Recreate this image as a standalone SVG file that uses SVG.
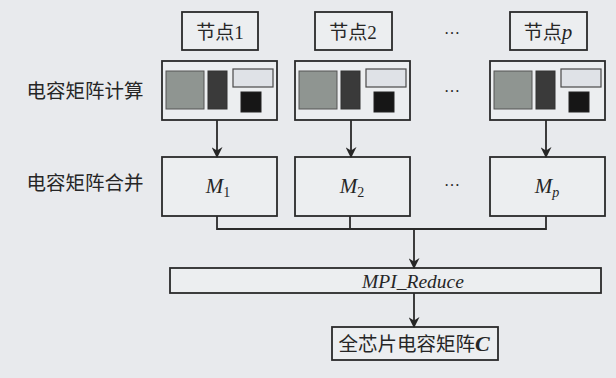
<svg xmlns="http://www.w3.org/2000/svg" width="616" height="378" viewBox="0 0 616 378">
<defs>
<style>
.bg{fill:#e8eaed}
.box{fill:#eceef0;stroke:#2a2a2a;stroke-width:1.8}
.cjk{font-family:"Noto Sans CJK SC","Noto Sans",sans-serif;fill:#262626}
.ser{font-family:"Liberation Serif","DejaVu Serif",serif;fill:#262626}
.it{font-style:italic}
.g1{fill:#8f9591;stroke:#555;stroke-width:1}
.g2{fill:#3a3a3a;stroke:#333;stroke-width:1}
.g3{fill:#dfe2e7;stroke:#4a4a4a;stroke-width:1.2}
.g4{fill:#161616;stroke:#222;stroke-width:1}
.ln{fill:none;stroke:#2a2a2a;stroke-width:1.8}
</style>
<marker id="ah" viewBox="0 0 10 10" refX="9" refY="5" markerWidth="11" markerHeight="11" markerUnits="userSpaceOnUse" orient="auto">
<path d="M0,0 L10,5 L0,10 L3,5 Z" fill="#262626"/>
</marker>
<g id="chip">
<rect x="0" y="0" width="115" height="59" class="box"/>
<rect x="4" y="10" width="38" height="38" class="g1"/>
<rect x="46" y="10" width="19" height="38" class="g2"/>
<rect x="71" y="8" width="40" height="18" class="g3"/>
<rect x="79" y="31" width="20" height="20" class="g4"/>
</g>
</defs>
<rect class="bg" x="0" y="0" width="616" height="378"/>

<text class="cjk" x="85" y="98" font-size="19.5" text-anchor="middle">电容矩阵计算</text>
<text class="cjk" x="85" y="190" font-size="19.5" text-anchor="middle">电容矩阵合并</text>

<g id="node1">
<rect class="box" x="182" y="12" width="76" height="38"/>
<text x="220" y="39" font-size="19" text-anchor="middle"><tspan class="cjk">节点</tspan><tspan class="ser">1</tspan></text>
</g>
<g id="node2">
<rect class="box" x="315" y="12" width="77" height="38"/>
<text x="353" y="39" font-size="19" text-anchor="middle"><tspan class="cjk">节点</tspan><tspan class="ser">2</tspan></text>
</g>
<g id="nodep">
<rect class="box" x="510" y="12" width="77" height="38"/>
<text x="548" y="39" font-size="19" text-anchor="middle"><tspan class="cjk">节点</tspan><tspan class="ser it" font-size="21">p</tspan></text>
</g>

<g id="calc1"><use href="#chip" x="162" y="61"/></g>
<g id="calc2"><use href="#chip" x="295" y="61"/></g>
<g id="calcp"><use href="#chip" x="490" y="61"/></g>

<g id="m1">
<rect class="box" x="162" y="157" width="115" height="59"/>
<text class="ser it" x="218" y="193" font-size="21" text-anchor="middle">M<tspan font-size="14" font-style="normal" dy="4">1</tspan></text>
</g>
<g id="m2">
<rect class="box" x="295" y="157" width="115" height="59"/>
<text class="ser it" x="352" y="193" font-size="21" text-anchor="middle">M<tspan font-size="14" font-style="normal" dy="4">2</tspan></text>
</g>
<g id="mp">
<rect class="box" x="490" y="157" width="115" height="59"/>
<text class="ser it" x="547" y="193" font-size="21" text-anchor="middle">M<tspan font-size="14" dy="4">p</tspan></text>
</g>

<g id="dots" class="ser" font-size="16">
<text x="452" y="34" text-anchor="middle">…</text>
<text x="452" y="92" text-anchor="middle">…</text>
<text x="452" y="186" text-anchor="middle">…</text>
</g>

<g id="mpi">
<rect class="box" x="170" y="268" width="431" height="25"/>
<text class="ser it" x="413" y="288" font-size="19.5" text-anchor="middle">MPI_Reduce</text>
</g>

<g id="result">
<rect class="box" x="332" y="327" width="166" height="33"/>
<text x="414" y="351" font-size="19.5" text-anchor="middle"><tspan class="cjk">全芯片电容矩阵</tspan><tspan class="ser it" font-weight="bold" font-size="22">C</tspan></text>
</g>

<g id="connectors">
<line class="ln" x1="217" y1="120" x2="217" y2="157" marker-end="url(#ah)"/>
<line class="ln" x1="351" y1="120" x2="351" y2="157" marker-end="url(#ah)"/>
<line class="ln" x1="546" y1="120" x2="546" y2="157" marker-end="url(#ah)"/>
<path class="ln" d="M217,216 V229 H546 V216 M350,216 V229"/>
<line class="ln" x1="414" y1="229" x2="414" y2="268" marker-end="url(#ah)"/>
<line class="ln" x1="414" y1="293" x2="414" y2="327" marker-end="url(#ah)"/>
</g>
</svg>
